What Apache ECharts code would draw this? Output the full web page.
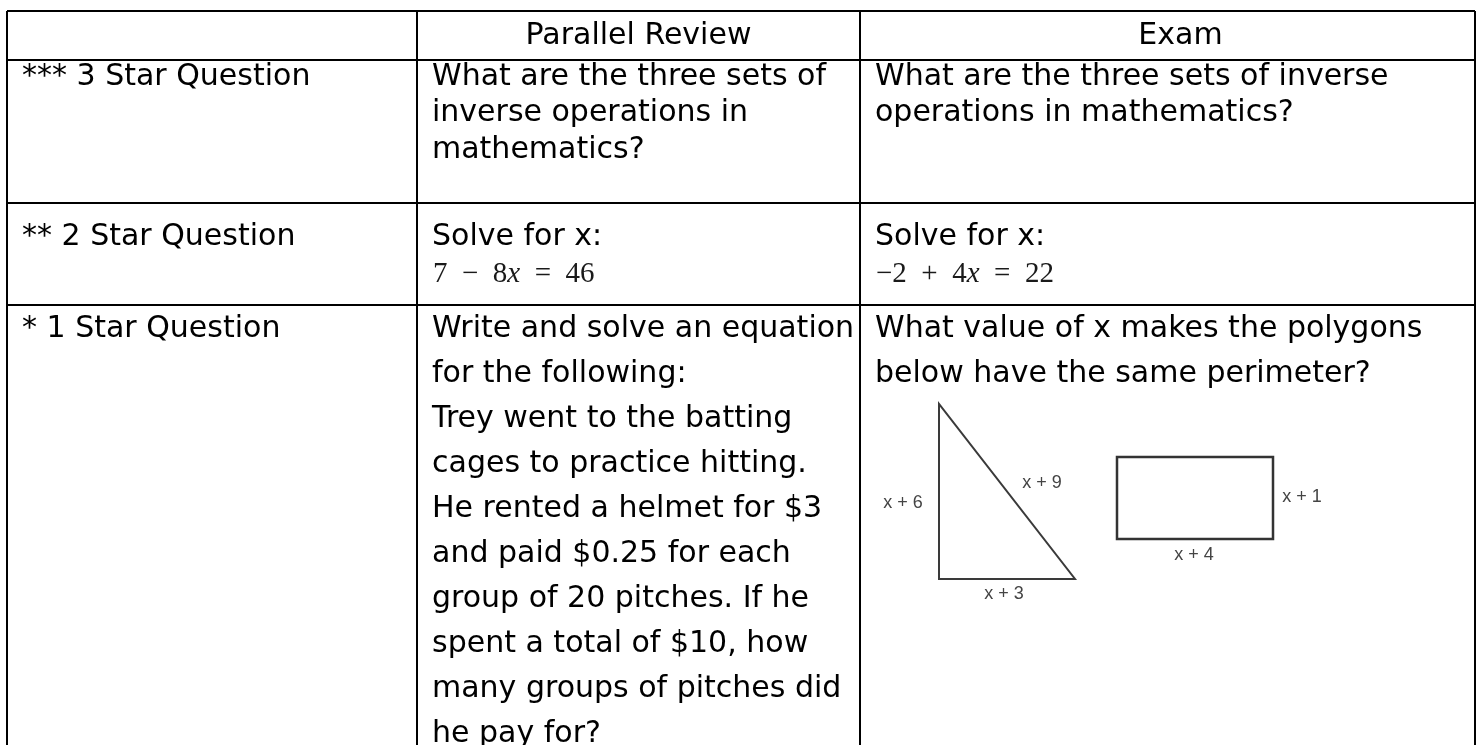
<!DOCTYPE html>
<html>
<head>
<meta charset="utf-8">
<script src="https://cdn.jsdelivr.net/npm/echarts@6/dist/echarts.min.js"></script>
<style>
  html, body { margin: 0; padding: 0; background: #fff; }
  #table { width: 1482px; height: 745px; }
</style>
</head>
<body>
<div id="table"></div>
<script>
// table content
const headers = ['', 'Parallel Review', 'Exam'];
const rowLabels = ['*** 3 Star Question', '** 2 Star Question', '* 1 Star Question'];
const reviewLines = [
  ['What are the three sets of', 'inverse operations in', 'mathematics?'],
  ['Solve for x:'],
  ['Write and solve an equation', 'for the following:', 'Trey went to the batting',
   'cages to practice hitting.', 'He rented a helmet for $3', 'and paid $0.25 for each',
   'group of 20 pitches. If he', 'spent a total of $10, how', 'many groups of pitches did',
   'he pay for?']
];
const examLines = [
  ['What are the three sets of inverse', 'operations in mathematics?'],
  ['Solve for x:'],
  ['What value of x makes the polygons', 'below have the same perimeter?']
];
const equations = ['7 − 8x = 46', '−2 + 4x = 22'];
const triangleLabels = ['x + 6', 'x + 9', 'x + 3'];
const rectLabels = ['x + 1', 'x + 4'];

// layout
const colX = [7, 417, 860, 1475];
const rowY = [11, 60, 203, 305];
const firstLine = [77, 237, 329];
const lineGap = [36.5, 24, 45];
const pad = 15;
const FONT = '30px "DejaVu Sans", sans-serif';

let chart = echarts.init(document.getElementById('table'), null, { renderer: 'canvas' });
let g = [];

// grid lines
rowY.forEach(function (y) {
  g.push({ type: 'line', shape: { x1: colX[0], y1: y, x2: colX[3], y2: y },
    style: { stroke: '#000', lineWidth: 2 } });
});
colX.forEach(function (x) {
  g.push({ type: 'line', shape: { x1: x, y1: rowY[0], x2: x, y2: 745 },
    style: { stroke: '#000', lineWidth: 2 } });
});

function txt(x, y, s, align, font, fill) {
  return { type: 'text', x: x, y: y,
    style: { text: s, font: font || FONT, fill: fill || '#000',
      textAlign: align || 'left', textVerticalAlign: 'middle' } };
}

// header row
g.push(txt((colX[1] + colX[2]) / 2, 36, headers[1], 'center'));
g.push(txt((colX[2] + colX[3]) / 2 + 13, 36, headers[2], 'center'));

// body rows
rowLabels.forEach(function (label, r) {
  g.push(txt(colX[0] + pad, firstLine[r], label));
  reviewLines[r].forEach(function (s, i) {
    g.push(txt(colX[1] + pad, firstLine[r] + i * lineGap[r], s));
  });
  examLines[r].forEach(function (s, i) {
    g.push(txt(colX[2] + pad, firstLine[r] + i * lineGap[r], s));
  });
});

// equations: serif, italic x, wider operator spacing like a math font
equations.forEach(function (eq, c) {
  let parts = eq.replace(/ /g, '  ').split('x');
  g.push({ type: 'text', x: colX[c + 1] + pad + 1, y: 274,
    style: { text: parts[0] + '{i|x}' + parts[1],
      font: '29px "Liberation Serif", serif', fill: '#1a1a1a',
      textVerticalAlign: 'middle',
      rich: { i: { fontStyle: 'italic', fontFamily: 'Liberation Serif', fontSize: 29, fill: '#1a1a1a' } } } });
});

// polygons
const LBL = '18px "Liberation Sans", Arial, sans-serif';
g.push({ type: 'polygon', shape: { points: [[939, 404], [939, 579], [1075, 579]] },
  style: { fill: '#fff', stroke: '#3a3a3a', lineWidth: 2 } });
g.push({ type: 'rect', shape: { x: 1117, y: 457, width: 156, height: 82 },
  style: { fill: '#fff', stroke: '#333', lineWidth: 2.5 } });
g.push(txt(903, 503, triangleLabels[0], 'center', LBL, '#444'));
g.push(txt(1042, 483, triangleLabels[1], 'center', LBL, '#444'));
g.push(txt(1004, 594, triangleLabels[2], 'center', LBL, '#444'));
g.push(txt(1302, 497, rectLabels[0], 'center', LBL, '#444'));
g.push(txt(1194, 555, rectLabels[1], 'center', LBL, '#444'));

chart.setOption({
  backgroundColor: '#fff',
  animation: false,
  graphic: { elements: g }
});
</script>
</body>
</html>
